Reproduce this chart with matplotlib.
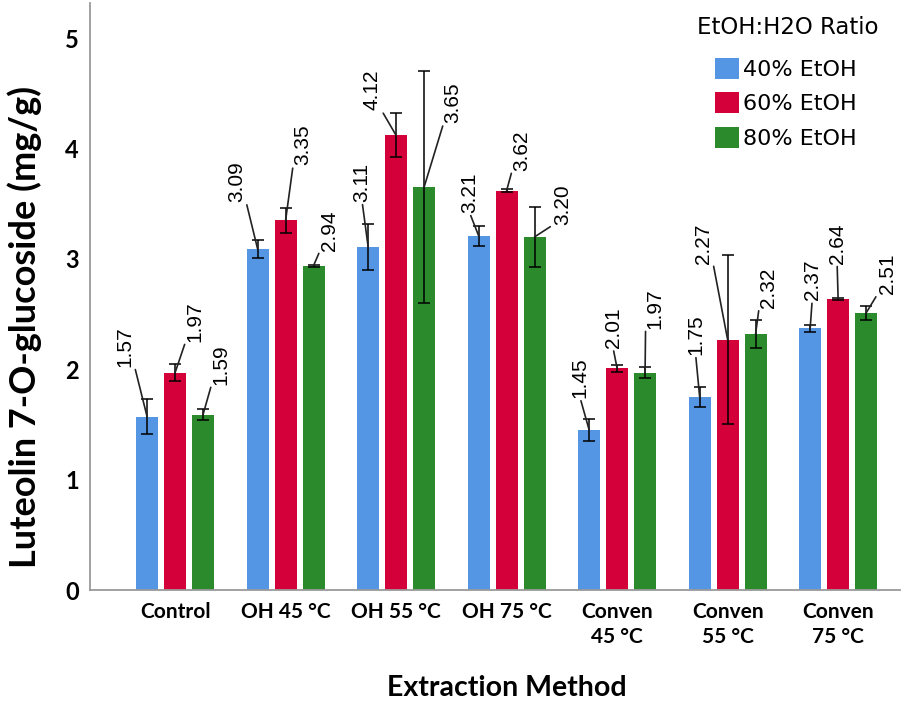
import numpy as np
import matplotlib.pyplot as plt

# Datos
methods = ['Control', 'OH 45 °C', 'OH 55 °C', 'OH 75 °C',
           'Conven\n45 °C', 'Conven\n55 °C', 'Conven\n75 °C']
ratios = ['40% EtOH', '60% EtOH', '80% EtOH']

etoh40 = [1.57, 3.09, 3.11, 3.21, 1.45, 1.75, 2.37]
etoh60 = [1.97, 3.35, 4.12, 3.62, 2.01, 2.27, 2.64]
etoh80 = [1.59, 2.94, 3.65, 3.20, 1.97, 2.32, 2.51]

err40 = [0.16, 0.08, 0.21, 0.09, 0.10, 0.09, 0.03]
err60 = [0.08, 0.11, 0.20, 0.01, 0.03, 0.77, 0.01]
err80 = [0.05, 0.01, 1.05, 0.27, 0.05, 0.13, 0.06]

colors = ['#5596E4', '#D4003A', '#2B8A2B']

# posicion de las etiquetas (pixeles respecto a la cima de la barra)
lab40 = [(-22, 50, 'r'), (-21, 47, 'r'), (-6, 45, 'c'), (-9, 23, 'c'),
         (-9, 32, 'c'), (-4, 42, 'c'), (2, 28, 'c')]
lab60 = [(20, 31, 'l'), (17, 55, 'l'), (-24, 25, 'r'), (15, 20, 'l'),
         (-4, 20, 'c'), (-24, 76, 'r'), (-1, 35, 'c')]
lab80 = [(18, 30, 'l'), (16, 15, 'l'), (29, 64, 'l'), (28, 12, 'l'),
         (10, 44, 'l'), (13, 26, 'l'), (21, 19, 'l')]

relpos = {'l': (0, 0), 'r': (1, 0), 'c': (0.5, 0)}

fig = plt.figure(figsize=(9.06, 7.03), dpi=100)
ax = fig.add_axes([90/906, 1 - 590/703, 810/906, 587/703])

x = np.arange(len(methods))
step = 0.253
width = 0.2
series = [(etoh40, err40, lab40), (etoh60, err60, lab60), (etoh80, err80, lab80)]

for i, (vals, errs, labs) in enumerate(series):
    pos = x + (i - 1) * step
    ax.bar(pos, vals, width, color=colors[i], label=ratios[i], zorder=2,
           yerr=errs, capsize=4,
           error_kw=dict(elinewidth=1.1, capthick=1.1, ecolor='black', zorder=3))
    for p, v, (dx, dy, side) in zip(pos, vals, labs):
        ax.annotate(f'{v:.2f}', xy=(p, v), xytext=(dx, dy),
                    textcoords='offset pixels', rotation=90,
                    ha='center', va='bottom', fontsize=15,
                    family='Liberation Sans', annotation_clip=False,
                    arrowprops=dict(arrowstyle='-', color='#222222', lw=1.2,
                                    relpos=relpos[side], shrinkA=0, shrinkB=0),
                    zorder=4)

ax.set_xlim(-0.77, 6.56)
ax.set_ylim(0, 5.32)
ax.set_xticks(x)
ax.set_xticklabels(methods, fontsize=15, fontweight='bold', family='Lato',
                   linespacing=1.3)
ax.set_yticks(range(6))
ax.set_yticklabels([str(t) for t in range(6)], fontsize=17, fontweight='bold',
                   family='Lato')
ax.tick_params(axis='x', length=0, pad=9)
ax.tick_params(axis='y', length=0, pad=8)

for s in ['top', 'right']:
    ax.spines[s].set_visible(False)
for s in ['left', 'bottom']:
    ax.spines[s].set_color('#9a9a9a')
    ax.spines[s].set_linewidth(1.3)

fig.text(25/906, 1 - 327/703, 'Luteolin 7-O-glucoside (mg/g)', rotation=90,
         fontsize=26, fontweight='bold', family='Lato', ha='center', va='center')
fig.text(507/906, 1 - 688/703, 'Extraction Method', fontsize=20.5,
         fontweight='bold', family='Lato', ha='center', va='center')

# titulo de la leyenda aparte, las entradas van sangradas
fig.text(697/906, 1 - 28/703, 'EtOH:H2O Ratio', fontsize=16.5,
         family='DejaVu Sans', ha='left', va='center')
ax.legend(loc='upper left', bbox_to_anchor=(715/906, 1 - 58/703),
          bbox_transform=fig.transFigure, frameon=False,
          handlelength=1.08, handleheight=1.08, handletextpad=0.2,
          labelspacing=0.55, borderpad=0, borderaxespad=0,
          prop=dict(family='DejaVu Sans', size=16))

fig.savefig('out.png', dpi=100)
